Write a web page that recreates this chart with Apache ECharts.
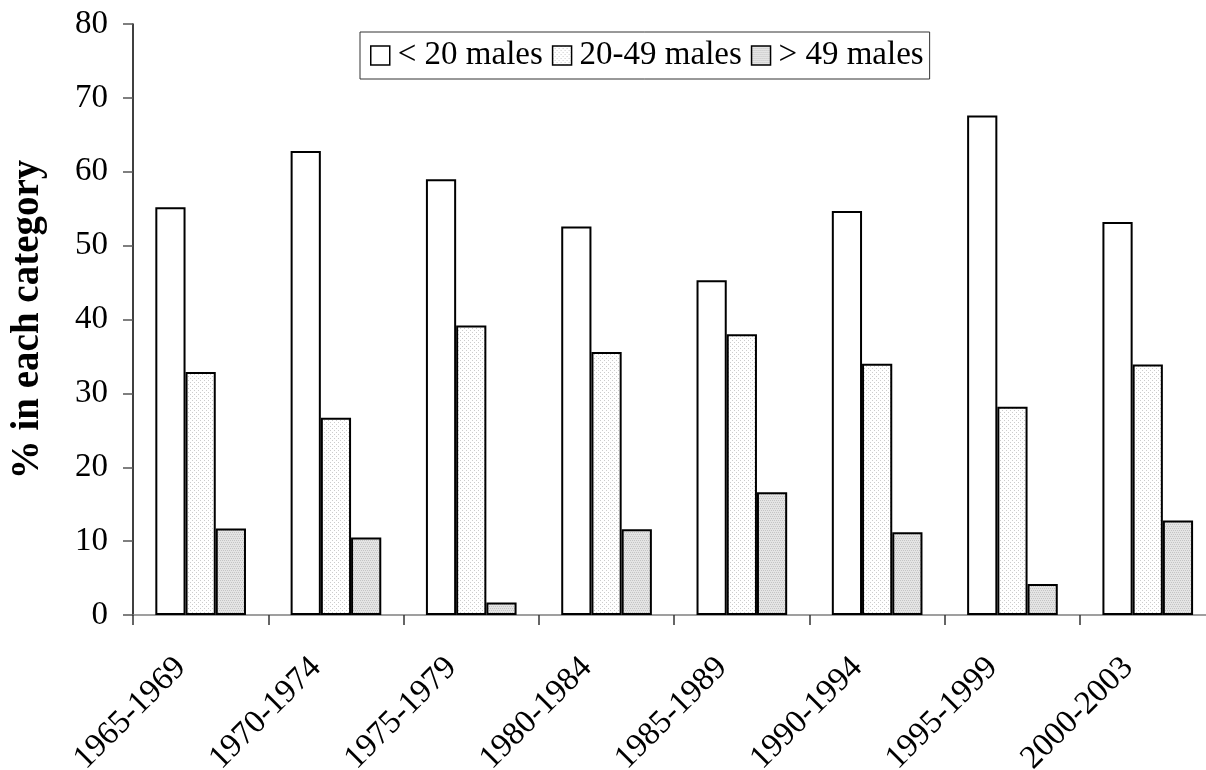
<!DOCTYPE html>
<html>
<head>
<meta charset="utf-8">
<script src="https://cdn.jsdelivr.net/npm/echarts@6/dist/echarts.min.js"></script>
<style>
  html, body { margin: 0; padding: 0; background: #fff; }
  #chart { width: 1206px; height: 770px; }
</style>
</head>
<body>
<div id="chart"></div>
<script>
// ---- Data ----
var categories = ['1965-1969', '1970-1974', '1975-1979', '1980-1984', '1985-1989', '1990-1994', '1995-1999', '2000-2003'];
var seriesNames = ['< 20 males', '20-49 males', '> 49 males'];
var under20 = [55.2, 62.8, 59.0, 52.6, 45.3, 54.7, 67.6, 53.2];
var from20to49 = [32.9, 26.7, 39.2, 35.6, 38.0, 34.0, 28.2, 33.9];
var over49 = [11.7, 10.5, 1.7, 11.6, 16.6, 11.2, 4.2, 12.8];
var yTicks = { min: 0, max: 80, interval: 10 };
var yTitle = '% in each category';

// ---- Fill patterns ----
function makePattern(base, dot, dots) {
  var c = document.createElement('canvas');
  c.width = 4; c.height = 4;
  var ctx = c.getContext('2d');
  ctx.fillStyle = base; ctx.fillRect(0, 0, 4, 4);
  ctx.fillStyle = dot;
  dots.forEach(function (p) { ctx.fillRect(p[0], p[1], 1, 1); });
  return { image: c, repeat: 'repeat' };
}
var lightPattern = makePattern('#ffffff', '#cccccc', [[0, 0], [2, 2]]);
var darkPattern = makePattern('#e4e4e4', '#c4c4c4', [[0, 0], [2, 0], [1, 2], [3, 2]]);

var font = "'Liberation Serif', 'Times New Roman', serif";
var fills = ['#ffffff', lightPattern, darkPattern];
var dataSets = [under20, from20to49, over49];

var chart = echarts.init(document.getElementById('chart'), null, { renderer: 'canvas' });
chart.setOption({
  animation: false,
  backgroundColor: '#ffffff',
  textStyle: { fontFamily: font },
  legend: {
    left: 360, top: 32,
    icon: 'rect', itemWidth: 19, itemHeight: 19, itemGap: 9,
    padding: [7, 6, 7, 10],
    borderColor: '#333', borderWidth: 1,
    backgroundColor: '#fff',
    itemStyle: { borderWidth: 1.5, borderColor: '#000' },
    textStyle: { fontFamily: font, fontSize: 33, color: '#000', padding: [0, 0, 0, 3] },
    data: seriesNames
  },
  grid: { left: 133, top: 24, width: 1082.4, height: 591, containLabel: false, outerBoundsMode: 'none' },
  xAxis: {
    type: 'category',
    data: categories,
    boundaryGap: true,
    axisLine: { lineStyle: { color: '#808080', width: 1.5 } },
    axisTick: { show: true, length: 10, lineStyle: { color: '#333', width: 1.5 } },
    axisLabel: {
      rotate: 45, fontFamily: font, fontSize: 33, color: '#000',
      margin: 28, padding: [0, 28, 0, 0]
    },
    splitLine: { show: false }
  },
  yAxis: {
    type: 'value',
    min: yTicks.min, max: yTicks.max, interval: yTicks.interval,
    name: yTitle,
    nameLocation: 'middle', nameRotate: 90, nameGap: 86,
    nameTextStyle: { fontFamily: font, fontSize: 39, fontWeight: 'bold', color: '#000' },
    axisLine: { show: true, lineStyle: { color: '#000', width: 1.5 } },
    axisTick: { show: true, length: 10, lineStyle: { color: '#555', width: 1.5 } },
    axisLabel: { fontFamily: font, fontSize: 33, color: '#000', margin: 25 },
    splitLine: { show: false }
  },
  series: dataSets.map(function (d, i) {
    return {
      name: seriesNames[i],
      type: 'bar',
      data: d,
      barGap: '0%',
      barCategoryGap: '33%',
      itemStyle: { color: fills[i], borderColor: '#000', borderWidth: 2 }
    };
  })
});
</script>
</body>
</html>
